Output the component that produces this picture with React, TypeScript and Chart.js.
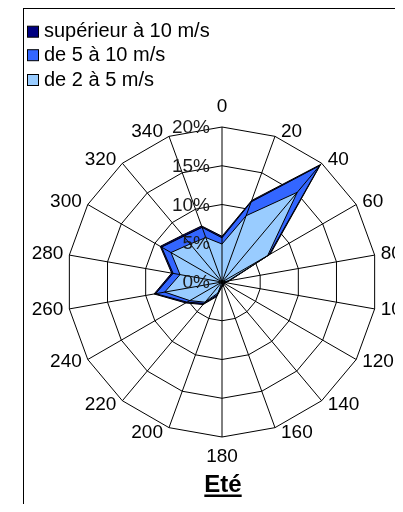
import React, { useEffect, useRef } from "react";
import { Chart, registerables } from "chart.js";

Chart.register(...registerables);

// ---- data ----
const directions = ["0", "20", "40", "60", "80", "100", "120", "140", "160", "180", "200", "220", "240", "260", "280", "300", "320", "340"];
const seriesNames = ["supérieur à 10 m/s", "de 5 à 10 m/s", "de 2 à 5 m/s"];
// cumulative frequencies (%), as drawn in the stacked-looking radar
const above10 = [5.9, 11.2, 19.8, 7.2, 1.0, 0.5, 0.4, 0.4, 0.5, 0.6, 2.0, 3.8, 5.4, 8.9, 6.6, 9.2, 7.9, 7.7];
const from5to10 = [5.7, 11.0, 19.6, 7.0, 0.9, 0.4, 0.3, 0.3, 0.4, 0.5, 1.8, 3.6, 5.2, 8.7, 6.4, 9.0, 7.7, 7.5];
const from2to5 = [4.9, 9.1, 15.1, 6.8, 0.8, 0.3, 0.3, 0.3, 0.3, 0.4, 1.5, 3.4, 4.8, 7.5, 5.5, 7.6, 6.4, 6.1];
const tickValues = [0, 5, 10, 15, 20];
const tickLabels = ["0%", "5%", "10%", "15%", "20%"];
const chartTitle = "Eté";

const seriesColors = ["#000080", "#3366FF", "#99CCFF"];
const FONT = "'Liberation Sans', Arial, sans-serif";

const overlayPlugin = {
  id: "overlay",
  afterDatasetsDraw(chart: any) {
    const ctx = chart.ctx;
    const r = chart.scales.r;
    ctx.save();
    // spokes on top of the fills
    ctx.strokeStyle = "#000";
    ctx.lineWidth = 1;
    for (let i = 0; i < directions.length; i++) {
      const p = r.getPointPositionForValue(i, 20);
      ctx.beginPath();
      ctx.moveTo(r.xCenter, r.yCenter);
      ctx.lineTo(p.x, p.y);
      ctx.stroke();
    }
    // direction labels
    ctx.font = `19px ${FONT}`;
    ctx.fillStyle = "#000";
    ctx.textBaseline = "middle";
    directions.forEach((lab, i) => {
      const p = r.getPointPositionForValue(i, 20);
      const deg = Number(lab);
      const th = (deg * Math.PI) / 180;
      if (deg === 0) {
        ctx.textAlign = "center";
        ctx.fillText(lab, p.x, p.y - 20);
      } else if (deg === 180) {
        ctx.textAlign = "center";
        ctx.fillText(lab, p.x, p.y + 20);
      } else {
        const right = deg < 180;
        ctx.textAlign = right ? "left" : "right";
        ctx.fillText(lab, p.x + (right ? 6 : -6), p.y - 5 * Math.cos(th));
      }
    });
    // tick labels, left of the vertical axis
    ctx.fillStyle = "#1a1a1a";
    ctx.textAlign = "right";
    tickValues.forEach((v, i) => {
      const y = r.yCenter - r.getDistanceFromCenterForValue(v);
      ctx.fillText(tickLabels[i], r.xCenter - 12, y + 1);
    });
    // legend
    const rows = [22.7, 46.2, 71];
    seriesNames.forEach((name, i) => {
      const cy = rows[i];
      ctx.fillStyle = seriesColors[i];
      ctx.fillRect(3.5, cy - 5.5, 11, 11);
      ctx.strokeStyle = "#000";
      ctx.lineWidth = 1;
      ctx.strokeRect(3.5, cy - 5.5, 11, 11);
      ctx.fillStyle = "#000";
      ctx.textAlign = "left";
      ctx.textBaseline = "middle";
      ctx.font = `20px ${FONT}`;
      ctx.fillText(name, 20, cy);
    });
    // title
    ctx.font = `bold 24px ${FONT}`;
    ctx.textAlign = "center";
    ctx.textBaseline = "alphabetic";
    ctx.fillStyle = "#000";
    const tx = r.xCenter + 1;
    const ty = 483;
    ctx.fillText(chartTitle, tx, ty);
    const w = ctx.measureText(chartTitle).width;
    ctx.fillRect(tx - w / 2, ty + 2.5, w, 2.5);
    ctx.restore();
  },
};

export default function App() {
  const ref = useRef<HTMLCanvasElement | null>(null);
  useEffect(() => {
    if (!ref.current) return;
    const mk = (label: string, data: number[], color: string, order: number) => ({
      label,
      data,
      backgroundColor: color,
      borderColor: "#000",
      borderWidth: 1,
      fill: "origin",
      pointRadius: 0,
      pointHoverRadius: 0,
      tension: 0,
      order,
    });
    const chart = new Chart(ref.current, {
      type: "radar",
      data: {
        labels: directions,
        datasets: [
          mk(seriesNames[0], above10, seriesColors[0], 3),
          mk(seriesNames[1], from5to10, seriesColors[1], 2),
          mk(seriesNames[2], from2to5, seriesColors[2], 1),
        ] as any,
      },
      options: {
        responsive: false,
        animation: false,
        devicePixelRatio: 1,
        layout: { padding: { top: 118, bottom: 67, left: 0, right: 0 } },
        plugins: {
          legend: { display: false },
          title: { display: false },
          tooltip: { enabled: false },
        },
        scales: {
          r: {
            min: 0,
            max: 20,
            beginAtZero: true,
            ticks: { stepSize: 5, display: false },
            grid: { color: "#000", lineWidth: 1 },
            angleLines: { display: false },
            pointLabels: { display: false },
          },
        },
      } as any,
      plugins: [overlayPlugin],
    });
    return () => chart.destroy();
  }, []);
  return (
    <div style={{ position: "relative", width: 395, height: 496, overflow: "hidden" }}>
      <div
        style={{
          position: "absolute",
          left: 15,
          top: 0,
          width: 396,
          height: 520,
          border: "1px solid #000",
          background: "#fff",
        }}
      >
        <canvas
          ref={ref}
          width={396}
          height={495}
          style={{ position: "absolute", left: 0, top: 0, width: 396, height: 495 }}
        />
      </div>
    </div>
  );
}
